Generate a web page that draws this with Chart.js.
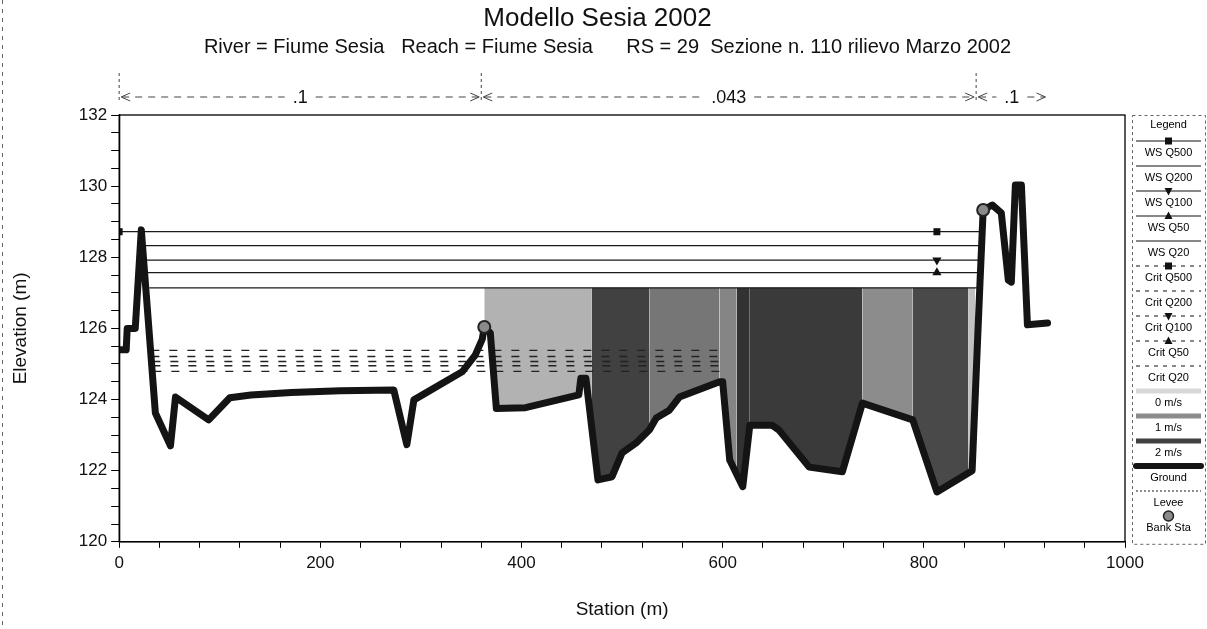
<!DOCTYPE html>
<html>
<head>
<meta charset="utf-8">
<script src="https://cdn.jsdelivr.net/npm/chart.js@4.4.1/dist/chart.umd.min.js"></script>
<style>
  html, body { margin: 0; padding: 0; background: #ffffff; }
  #wrap { width: 1207px; height: 629px; position: relative; }
</style>
</head>
<body>
<div id="wrap"><canvas id="c"></canvas></div>
<script>
// ---------------- DATA ----------------
const chartTitle = 'Modello Sesia 2002';
const chartSubtitle = 'River = Fiume Sesia   Reach = Fiume Sesia      RS = 29  Sezione n. 110 rilievo Marzo 2002';
const xAxisTitle = 'Station (m)';
const yAxisTitle = 'Elevation (m)';

const groundStations = [0,7,8,16,22,36,51,56,89,110,131,171,220,273,286,293,341,354,361,363,369,375,404,457,459,464,476,490,500,514,527,534,547,557,597,600,607,620,627,649,656,686,719,739,789,813,848,856,859,868,877,884,887,891,897,903,923];
const groundElev = [125.4,125.4,126.0,126.0,128.77,123.62,122.7,124.07,123.43,124.05,124.13,124.2,124.25,124.27,122.73,123.99,124.78,125.25,125.7,126.04,125.87,123.75,123.77,124.13,124.6,124.6,121.74,121.83,122.5,122.78,123.14,123.48,123.7,124.07,124.5,124.5,122.3,121.55,123.28,123.28,123.14,122.1,121.97,123.9,123.43,121.4,122.0,127.4,129.33,129.47,129.25,127.36,127.3,130.03,130.03,126.1,126.15];

const bankStations = [363, 859];

const wsProfiles = ['WS Q500', 'WS Q200', 'WS Q100', 'WS Q50', 'WS Q20'];
const wsElev = [128.72, 128.33, 127.92, 127.57, 127.14];
const wsLeftStation = [0, 26, 27, 28, 30];
const wsRightStation = [857, 857, 857, 857, 857];
const wsMarkerStations = [[0, 813], [], [813], [813], []];

const critProfiles = ['Crit Q500', 'Crit Q200', 'Crit Q100', 'Crit Q50', 'Crit Q20'];
const critElev = [125.38, 125.21, 125.07, 124.95, 124.79];
const critLeftStation = [32, 32, 33, 33, 34];
const critRightStation = [600, 600, 600, 600, 600];

const velSliceEdges = [363, 470, 527, 597, 614, 627, 739, 789, 844, 851];
const velSliceValues = [0.5, 2.0, 1.3, 1.1, 2.2, 2.1, 1.0, 1.9, 0.3];
const velLegendLabels = ['0 m/s', '1 m/s', '2 m/s'];
const velLegendValues = [0, 1, 2];

const otherLegendLabels = ['Ground', 'Levee', 'Bank Sta'];

const nStations = [0, 360, 852, 923];
const nValues = ['.1', '.043', '.1'];

const xMajorTicks = [0, 200, 400, 600, 800, 1000];
const yMajorTicks = [120, 122, 124, 126, 128, 130, 132];

// ---------------- STYLE ----------------
const FONT = '"Liberation Sans", Arial, Helvetica, sans-serif';
const INK = '#111111';
const markerStyles = [
  { style: 'rect', rotation: 0 },
  null,
  { style: 'triangle', rotation: 180 },
  { style: 'triangle', rotation: 0 },
  null
];
function velColor(v) {
  const g = Math.max(30, Math.min(225, Math.round(215 - v * 75)));
  return `rgb(${g},${g},${g})`;
}
function groundAt(s) { return groundElev[groundStations.indexOf(s)]; }

// ---------------- DATASETS ----------------
const datasets = [];

const groundIndex = datasets.length;
datasets.push({
  label: 'Ground',
  data: groundStations.map((s, i) => ({ x: s, y: groundElev[i] })),
  borderColor: '#141414',
  borderWidth: 7,
  borderJoinStyle: 'round',
  borderCapStyle: 'round',
  pointRadius: 0,
  fill: false,
  order: 1
});

datasets.push({
  label: 'Bank Sta',
  data: bankStations.map(s => ({ x: s, y: groundAt(s) })),
  showLine: false,
  pointStyle: 'circle',
  pointRadius: 6,
  pointBackgroundColor: '#8a8a8a',
  pointBorderColor: '#222',
  pointBorderWidth: 2,
  order: 0
});

wsProfiles.forEach((name, i) => {
  const pts = [wsLeftStation[i], ...wsMarkerStations[i], wsRightStation[i]]
    .filter((v, k, arr) => arr.indexOf(v) === k)
    .sort((a, b) => a - b)
    .map(s => ({ x: s, y: wsElev[i] }));
  const mk = markerStyles[i];
  datasets.push({
    label: name,
    data: pts,
    borderColor: '#1a1a1a',
    borderWidth: 1.3,
    pointStyle: mk ? mk.style : 'circle',
    rotation: mk ? mk.rotation : 0,
    pointRadius: c => (mk && c.raw && wsMarkerStations[i].includes(c.raw.x)) ? 4 : 0,
    pointBackgroundColor: '#111',
    pointBorderColor: '#111',
    fill: false,
    order: 2
  });
});

critProfiles.forEach((name, i) => {
  datasets.push({
    label: name,
    data: [{ x: critLeftStation[i], y: critElev[i] }, { x: critRightStation[i], y: critElev[i] }],
    borderColor: '#222',
    borderWidth: 1.3,
    borderDash: [8, 10],
    pointRadius: 0,
    fill: false,
    order: 3
  });
});

velSliceValues.forEach((v, k) => {
  datasets.push({
    label: 'vel' + k,
    data: [{ x: velSliceEdges[k], y: wsElev[4] }, { x: velSliceEdges[k + 1], y: wsElev[4] }],
    borderWidth: 0,
    borderColor: 'rgba(0,0,0,0)',
    backgroundColor: velColor(v),
    pointRadius: 0,
    fill: { target: groundIndex },
    order: 5
  });
});

// ---------------- PLUGINS ----------------
const titles = {
  id: 'titles',
  afterDraw(chart) {
    const { ctx } = chart;
    const cx = chart.width / 2;
    ctx.save();
    ctx.fillStyle = INK;
    ctx.textAlign = 'center';
    ctx.textBaseline = 'middle';
    ctx.font = '26px ' + FONT;
    ctx.fillText(chartTitle, cx - 6, 19);
    ctx.font = '20px ' + FONT;
    ctx.fillText(chartSubtitle, cx + 4, 47);
    ctx.restore();
  }
};

const frame = {
  id: 'frame',
  afterDraw(chart) {
    const { ctx, chartArea: a } = chart;
    ctx.save();
    ctx.strokeStyle = '#000';
    ctx.lineWidth = 1.3;
    ctx.strokeRect(a.left, a.top, a.right - a.left, a.bottom - a.top);
    ctx.setLineDash([4, 5]);
    ctx.lineWidth = 1;
    ctx.strokeStyle = '#666';
    ctx.beginPath();
    ctx.moveTo(2.5, 0); ctx.lineTo(2.5, chart.height);
    ctx.stroke();
    ctx.restore();
  }
};

const manning = {
  id: 'manning',
  afterDraw(chart) {
    const { ctx, chartArea: a, scales: { x } } = chart;
    const y = a.top - 18;
    ctx.save();
    ctx.font = '18px ' + FONT;
    ctx.textAlign = 'center';
    ctx.textBaseline = 'middle';
    ctx.fillStyle = INK;
    ctx.strokeStyle = '#444';
    ctx.lineWidth = 1;
    for (let i = 0; i < nValues.length; i++) {
      const xa = x.getPixelForValue(nStations[i]);
      const xb = x.getPixelForValue(nStations[i + 1]);
      const xm = (xa + xb) / 2;
      const tw = ctx.measureText(nValues[i]).width;
      ctx.fillText(nValues[i], xm, y + 1);
      ctx.setLineDash([7, 6]);
      ctx.beginPath();
      ctx.moveTo(xa + 3, y); ctx.lineTo(xm - tw / 2 - 8, y);
      ctx.moveTo(xm + tw / 2 + 8, y); ctx.lineTo(xb - 3, y);
      ctx.stroke();
      ctx.setLineDash([]);
      ctx.beginPath();
      ctx.moveTo(xa + 11, y - 4); ctx.lineTo(xa + 2, y); ctx.lineTo(xa + 11, y + 4);
      ctx.moveTo(xb - 11, y - 4); ctx.lineTo(xb - 2, y); ctx.lineTo(xb - 11, y + 4);
      ctx.stroke();
      ctx.setLineDash([3, 3]);
      ctx.beginPath();
      ctx.moveTo(xa, a.top - 42); ctx.lineTo(xa, a.top - 12);
      ctx.stroke();
    }
    ctx.restore();
  }
};

const sideLegend = {
  id: 'sideLegend',
  afterDraw(chart) {
    const { ctx, chartArea: a } = chart;
    const L = a.right + 7, R = chart.width - 2, cx = (L + R) / 2;
    const top = a.top, bottom = a.bottom + 2;
    const sl = L + 4, sr = R - 4;
    ctx.save();
    ctx.setLineDash([3, 3]);
    ctx.strokeStyle = '#666';
    ctx.lineWidth = 1;
    ctx.strokeRect(L + 0.5, top + 0.5, R - L, bottom - top);
    ctx.setLineDash([]);
    ctx.font = '11px ' + FONT;
    ctx.textAlign = 'center';
    ctx.textBaseline = 'middle';
    ctx.fillStyle = '#000';
    ctx.fillText('Legend', cx, top + 10);

    const drawMarker = (mk, x0, y0) => {
      if (!mk) return;
      ctx.save();
      ctx.fillStyle = '#111';
      ctx.translate(x0, y0);
      if (mk.style === 'rect') {
        ctx.fillRect(-3.5, -3.5, 7, 7);
      } else {
        if (mk.rotation) ctx.rotate(Math.PI);
        ctx.beginPath();
        ctx.moveTo(0, -4.5); ctx.lineTo(4, 3); ctx.lineTo(-4, 3); ctx.closePath();
        ctx.fill();
      }
      ctx.restore();
    };
    const line = (y0, w, color, dash, cap) => {
      ctx.save();
      ctx.strokeStyle = color; ctx.lineWidth = w; ctx.setLineDash(dash || []);
      ctx.lineCap = cap || 'butt';
      ctx.beginPath(); ctx.moveTo(sl, y0); ctx.lineTo(sr, y0); ctx.stroke();
      ctx.restore();
    };

    let k = 0;
    const step = 25;
    const textY = i => top + 38 + i * step;
    wsProfiles.forEach((name, i) => {
      const ty = textY(k++), sy = ty - 12;
      line(sy, 1.2, '#111');
      drawMarker(markerStyles[i], cx, sy);
      ctx.fillText(name, cx, ty);
    });
    critProfiles.forEach((name, i) => {
      const ty = textY(k++), sy = ty - 12;
      line(sy, 1.2, '#111', [4, 5]);
      drawMarker(markerStyles[i], cx, sy);
      ctx.fillText(name, cx, ty);
    });
    velLegendLabels.forEach((name, i) => {
      const ty = textY(k++), sy = ty - 12;
      line(sy, 5, velColor(velLegendValues[i]));
      ctx.fillText(name, cx, ty);
    });
    let ty = textY(k++), sy = ty - 12;
    line(sy, 6, '#141414', null, 'round');
    ctx.fillText(otherLegendLabels[0], cx, ty);
    ty = textY(k++); sy = ty - 12;
    line(sy, 1, '#222', [2, 2]);
    ctx.fillText(otherLegendLabels[1], cx, ty);
    ty = textY(k++); sy = ty - 12;
    ctx.beginPath(); ctx.arc(cx, sy, 5, 0, Math.PI * 2);
    ctx.fillStyle = '#8a8a8a'; ctx.fill();
    ctx.lineWidth = 1.5; ctx.strokeStyle = '#222'; ctx.stroke();
    ctx.fillStyle = '#000';
    ctx.fillText(otherLegendLabels[2], cx, ty);
    ctx.restore();
  }
};

// ---------------- CHART ----------------
new Chart(document.getElementById('c'), {
  type: 'line',
  data: { datasets },
  plugins: [titles, frame, manning, sideLegend],
  options: {
    responsive: true,
    maintainAspectRatio: false,
    animation: false,
    elements: { line: { tension: 0 } },
    layout: { padding: { top: 115, right: 82, bottom: 0, left: 0 } },
    plugins: {
      legend: { display: false },
      tooltip: { enabled: false },
      title: { display: false },
      subtitle: { display: false }
    },
    scales: {
      x: {
        type: 'linear',
        min: 0,
        max: 1000,
        border: { display: true, color: '#000', width: 1.3 },
        grid: { display: true, drawOnChartArea: false, drawTicks: true, tickLength: 6, color: '#000' },
        ticks: {
          stepSize: 40,
          autoSkip: false,
          maxRotation: 0,
          padding: 5,
          color: INK,
          font: { family: FONT, size: 17 },
          callback: v => xMajorTicks.includes(v) ? String(v) : ''
        },
        title: {
          display: true,
          text: xAxisTitle,
          color: INK,
          font: { family: FONT, size: 19 },
          padding: { top: 20, bottom: 8 }
        }
      },
      y: {
        type: 'linear',
        min: 120,
        max: 132,
        border: { display: true, color: '#000', width: 1.3 },
        grid: { display: true, drawOnChartArea: false, drawTicks: true, tickLength: 8, color: '#000' },
        ticks: {
          stepSize: 0.5,
          autoSkip: false,
          padding: 4,
          color: INK,
          font: { family: FONT, size: 17 },
          callback: v => yMajorTicks.includes(v) ? String(v) : ''
        },
        title: {
          display: true,
          text: yAxisTitle,
          color: INK,
          font: { family: FONT, size: 19 },
          padding: { top: 9, bottom: 43 }
        }
      }
    }
  }
});
</script>
</body>
</html>
